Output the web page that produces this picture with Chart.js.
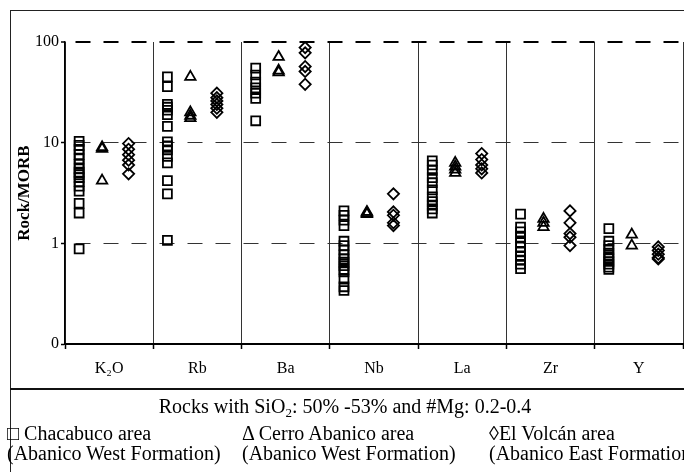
<!DOCTYPE html>
<html><head><meta charset="utf-8">
<script src="https://cdn.jsdelivr.net/npm/chart.js@4"></script>
<style>
html,body{margin:0;padding:0;background:#fff;width:684px;height:472px;overflow:hidden;}
#wrap{position:relative;width:684px;height:472px;overflow:hidden;}
#frame{position:absolute;left:10px;top:10px;width:700px;height:470px;border:1px solid #222;box-sizing:border-box;}
#sep{position:absolute;left:10px;top:388px;width:700px;height:2px;background:#111;}
canvas{position:absolute;left:0;top:0;}
.t{position:absolute;font-family:"Liberation Serif","Times New Roman",serif;font-size:20px;color:#000;white-space:nowrap;line-height:20px;}
.t sub{font-size:13px;vertical-align:-4px;line-height:0;}
</style></head>
<body><div id="wrap">
<div id="frame"></div>
<div id="sep"></div>
<canvas id="c" width="684" height="472"></canvas>
<div class="t" style="left:0;width:690px;text-align:center;top:396px;">Rocks with SiO<sub>2</sub>: 50% -53% and #Mg: 0.2-0.4</div>
<div class="t" style="left:7px;top:423px;">□ Chacabuco area<br>(Abanico West Formation)</div>
<div class="t" style="left:242px;top:423px;">Δ Cerro Abanico area<br>(Abanico West Formation)</div>
<div class="t" style="left:489px;top:423px;">◊El Volcán area<br>(Abanico East Formation)</div>
</div>
<script>
const categories = ['K₂O', 'Rb', 'Ba', 'Nb', 'La', 'Zr', 'Y'];
const yTickValues = [0.1, 1, 10, 100];
const yTickLabels = ['0', '1', '10', '100'];

// Chacabuco area (Abanico West Formation) – squares
const chacabuco = [
  [10.3, 9.4, 8.6, 7.6, 6.9, 6.1, 5.5, 5.1, 4.8, 4.5, 4.1, 3.7, 3.3, 2.5, 2.0, 0.88],
  [45, 36, 24, 22.5, 21, 19, 14.5, 10.2, 9.3, 8.5, 7.3, 6.3, 4.2, 3.1, 1.07],
  [55, 47, 40, 35, 31, 27.5, 16.5],
  [2.1, 1.9, 1.7, 1.5, 1.05, 0.95, 0.86, 0.77, 0.7, 0.65, 0.6, 0.55, 0.52, 0.44, 0.37, 0.34],
  [6.6, 6.0, 5.3, 4.5, 4.0, 3.4, 2.9, 2.6, 2.4, 2.2, 2.0],
  [1.95, 1.45, 1.3, 1.15, 1.02, 0.92, 0.82, 0.74, 0.68, 0.62, 0.56],
  [1.4, 1.05, 0.95, 0.87, 0.8, 0.74, 0.7, 0.66, 0.62, 0.58, 0.55]
];
// Cerro Abanico area (Abanico West Formation) – triangles
const cerroAbanico = [
  [9.0, 8.7, 4.2],
  [45, 20, 18.5, 17.5],
  [71, 50, 52],
  [2.05, 2.0, 1.95],
  [6.3, 5.8, 5.4, 5.0],
  [1.75, 1.6, 1.45],
  [1.22, 0.95]
];
// El Volcán area (Abanico East Formation) – diamonds
const elVolcan = [
  [9.8, 8.6, 7.6, 6.7, 6.0, 4.9],
  [31, 28, 26, 24, 22, 20],
  [88, 78, 57, 51, 38],
  [3.1, 2.05, 1.9, 1.6, 1.5],
  [7.8, 6.8, 6.0, 5.5, 5.0],
  [2.1, 1.6, 1.25, 1.15, 0.95],
  [0.92, 0.85, 0.78, 0.72, 0.7]
];

const SERIF = '"Liberation Serif", "Times New Roman", serif';
function toPoints(groups, off) {
  const pts = [];
  groups.forEach((vals, i) => vals.forEach(v => pts.push({x: i + off, y: v})));
  return pts;
}
function ds(label, groups, off, style, r) {
  return {
    label, data: toPoints(groups, off), pointStyle: style, pointRadius: r,
    borderColor: '#000', backgroundColor: 'rgba(0,0,0,0)', pointBorderWidth: 1.8, showLine: false
  };
}

new Chart(document.getElementById('c'), {
  type: 'scatter',
  data: {
    datasets: [
      ds('Chacabuco area', chacabuco, 0.16, 'rect', 6.3),
      ds('Cerro Abanico area', cerroAbanico, 0.42, 'triangle', 6),
      ds('El Volcán area', elVolcan, 0.72, 'rectRot', 5.6)
    ]
  },
  options: {
    responsive: false, animation: false, events: [],
    devicePixelRatio: 1,
    layout: {autoPadding: false, padding: {left: 0, right: 1, top: 42, bottom: 83}},
    plugins: {legend: {display: false}, tooltip: {enabled: false}},
    scales: {
      x: {
        type: 'linear', min: 0, max: categories.length,
        afterBuildTicks: s => {
          const t = [];
          for (let i = 0; i <= categories.length; i++) {
            t.push({value: i});
            if (i < categories.length) t.push({value: i + 0.5});
          }
          s.ticks = t;
        },
        afterFit: s => { s.height = 45; s.paddingRight = 0; s.paddingLeft = 0; },
        ticks: {
          autoSkip: false, maxRotation: 0, minRotation: 0, padding: 10, color: '#000',
          font: {family: SERIF, size: 16},
          callback: v => Number.isInteger(v) ? '' : categories[Math.floor(v)]
        },
        grid: {
          color: c => (c.tick && Number.isInteger(c.tick.value)) ? '#333' : 'rgba(0,0,0,0)',
          tickColor: c => (c.tick && Number.isInteger(c.tick.value)) ? '#000' : 'rgba(0,0,0,0)',
          lineWidth: 1, tickLength: 5, tickWidth: 1.5
        },
        border: {display: true, color: '#000', width: 2}
      },
      y: {
        type: 'logarithmic', min: 0.1, max: 100,
        afterBuildTicks: s => { s.ticks = yTickValues.map(v => ({value: v})); },
        afterFit: s => { s.width = 65; },
        ticks: {
          padding: 2, color: '#000', font: {family: SERIF, size: 16},
          callback: v => yTickLabels[yTickValues.indexOf(v)]
        },
        title: {
          display: true, text: 'Rock/MORB', color: '#000',
          font: {family: SERIF, size: 17, weight: 'bold'}, padding: {top: 14, bottom: 0}
        },
        grid: {
          color: c => !c.tick ? '#000' : (c.tick.value === 0.1 ? 'rgba(0,0,0,0)' : (c.tick.value === 100 ? '#000' : '#333')),
          lineWidth: c => (c.tick && c.tick.value === 100) ? 2 : 1,
          tickColor: '#000', tickLength: 4, tickWidth: 1.5
        },
        border: {display: true, color: '#000', width: 1.5, dash: [15, 13], dashOffset: 18}
      }
    }
  }
});
</script>
</body></html>
